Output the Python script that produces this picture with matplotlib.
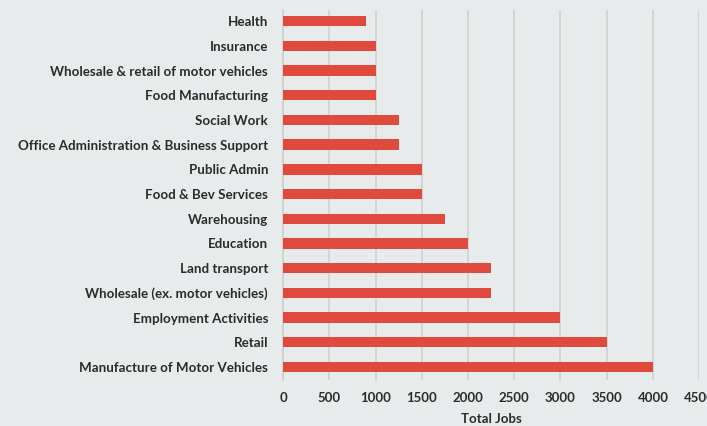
import matplotlib.pyplot as plt

# sectors, top of chart first
sectors = ['Health', 'Insurance', 'Wholesale & retail of motor vehicles',
           'Food Manufacturing', 'Social Work',
           'Office Administration & Business Support', 'Public Admin',
           'Food & Bev Services', 'Warehousing', 'Education',
           'Land transport', 'Wholesale (ex. motor vehicles)',
           'Employment Activities', 'Retail', 'Manufacture of Motor Vehicles']
jobs = [900, 1000, 1000, 1000, 1250, 1250, 1500, 1500, 1750, 2000,
        2250, 2250, 3000, 3500, 4000]
xticks = [0, 500, 1000, 1500, 2000, 2500, 3000, 3500, 4000, 4500]

bg = '#e7ebeb'
bar_col = '#e04a3d'
txt = '#2b2b2b'

plt.rcParams['font.family'] = ['Lato', 'DejaVu Sans']

fig = plt.figure(figsize=(7.07, 4.26), dpi=100, facecolor=bg)
ax = fig.add_axes([0.4003, 0.108, 0.5887, 0.8685], facecolor=bg)

pos = list(range(len(sectors)))
ax.barh(pos, jobs, height=0.42, color=bar_col, zorder=3)

ax.set_ylim(len(sectors) - 1 + 0.53, -0.45)
ax.set_xlim(0, 4500)
ax.set_xticks(xticks)
ax.set_xticklabels([str(t) for t in xticks], fontsize=9.5, fontweight='bold', color=txt)
ax.set_yticks(pos)
ax.set_yticklabels(sectors, fontsize=9.6, fontweight='bold', color=txt)
ax.tick_params(axis='both', length=0)
ax.tick_params(axis='x', pad=9)
ax.tick_params(axis='y', pad=10.8)

ax.grid(axis='x', color='#cfd1d1', linewidth=1.2, zorder=0)
for s in ['top', 'right', 'bottom']:
    ax.spines[s].set_visible(False)
ax.spines['left'].set_color('#cfd1d1')
ax.spines['left'].set_linewidth(1.2)

ax.set_xlabel('Total Jobs', fontsize=9.5, fontweight='bold', color=txt, labelpad=6)

fig.savefig('out.png', dpi=100, facecolor=bg)
